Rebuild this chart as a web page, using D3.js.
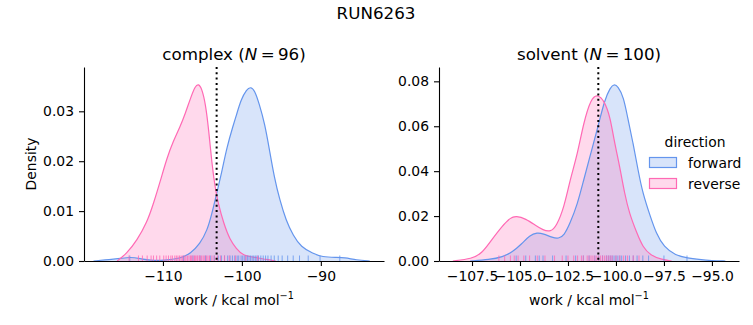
<!DOCTYPE html>
<html>
<head>
<meta charset="utf-8">
<script src="https://cdn.jsdelivr.net/npm/d3@7"></script>
<style>
  body { margin: 0; background: #fff; }
  text { font-family: "DejaVu Sans", sans-serif; fill: #000; }
</style>
</head>
<body>
<svg id="chart" width="753" height="325"></svg>
<script>
// density curves: [work, density]
var complexForward = [[-118.8,0],[-116.7,0.0003],[-115.4,0.0005],[-114.1,0.0008],[-112.9,0.0005],[-111.6,0.0001],
    [-109.9,0.0001],[-107.8,0.0005],[-106.5,0.0015],[-105.3,0.0035],[-104.4,0.0061],[-103.8,0.0095],[-103.2,0.0135],
    [-102.5,0.0182],[-101.9,0.0228],[-101.1,0.0272],[-100.7,0.0292],[-100.1,0.0324],[-99.4,0.0344],[-98.9,0.0349],
    [-98.4,0.0343],[-97.8,0.0315],[-97.1,0.0275],[-96.5,0.0222],[-95.9,0.0168],[-95.2,0.0122],[-94.4,0.0081],
    [-93.5,0.0051],[-92.5,0.0028],[-91.0,0.0015],[-89.8,0.0008],[-88.1,0.0007],[-87.0,0.0007],[-85.5,0.0002],[-83.8,0]];
var complexReverse = [[-115.8,0],[-114.6,0.0015],[-113.3,0.0041],[-112.0,0.0078],[-111.2,0.0115],[-110.3,0.0162],
    [-109.5,0.0206],[-108.7,0.0240],[-107.8,0.0270],[-107.2,0.0294],[-106.5,0.0327],[-105.9,0.0351],[-105.5,0.0355],
    [-105.1,0.0347],[-104.6,0.0315],[-104.2,0.0262],[-103.8,0.0195],[-103.4,0.0148],[-103.0,0.0115],[-102.3,0.0075],
    [-101.5,0.0042],[-100.7,0.0025],[-99.9,0.0011],[-98.2,0.0007],[-96.9,0.0003],[-95.7,0]];
var solventForward = [[-107.6,0],[-106.6,0.0006],[-105.9,0.0018],[-105.4,0.004],[-104.9,0.0077],[-104.5,0.0114],
    [-104.1,0.0127],[-103.8,0.0122],[-103.3,0.0104],[-103.0,0.0099],[-102.7,0.0114],[-102.4,0.0166],[-102.0,0.0255],
    [-101.7,0.0355],[-101.3,0.0483],[-100.9,0.0610],[-100.6,0.0715],[-100.3,0.0772],[-100.1,0.0788],[-99.9,0.0778],
    [-99.6,0.0730],[-99.4,0.0641],[-99.1,0.0522],[-98.85,0.0404],[-98.6,0.030],[-98.2,0.0196],[-97.9,0.0122],
    [-97.5,0.0062],[-96.9,0.0025],[-96.25,0.0013],[-95.7,0.0007],[-95.0,0.0001],[-94.3,0]];
var solventReverse = [[-108.5,0],[-107.5,0.001],[-107.0,0.0033],[-106.5,0.0092],[-105.9,0.0159],[-105.5,0.0193],
    [-105.2,0.0201],[-104.7,0.0188],[-104.2,0.0159],[-103.8,0.0137],[-103.4,0.0130],[-103.1,0.0155],[-102.7,0.024],
    [-102.4,0.0359],[-102.0,0.0478],[-101.7,0.0611],[-101.3,0.0725],[-100.95,0.0743],[-100.6,0.0712],[-100.3,0.0641],
    [-100.1,0.0537],[-99.8,0.0419],[-99.55,0.030],[-99.3,0.0211],[-98.9,0.0122],[-98.6,0.0062],[-98.2,0.0025],
    [-97.6,0.0006],[-97.1,0]];

// rug positions (work values)
var complexForwardRug = [-114.2,-107.4,-106.2,-105.3,-104.6,-104.0,-103.5,-103.0,-102.6,-102.2,-101.8,-101.5,-101.2,
    -100.9,-100.6,-100.4,-100.1,-99.9,-99.7,-99.5,-99.3,-99.1,-98.9,-98.7,-98.5,-98.3,-98.1,-97.9,-97.6,-97.3,-97.0,
    -96.7,-96.3,-95.9,-95.4,-94.9,-94.2,-93.5,-92.7,-91.6,-90.1,-87.6];
var complexReverseRug = [-114.3,-113.1,-112.6,-112.0,-111.5,-111.2,-110.8,-110.4,-109.9,-109.6,-109.3,-109.0,-108.8,
    -108.5,-108.3,-108.1,-107.9,-107.7,-107.5,-107.3,-107.1,-106.9,-106.7,-106.5,-106.4,-106.2,-106.0,-105.9,-105.7,
    -105.6,-105.4,-105.3,-105.1,-104.9,-104.7,-104.5,-104.3,-104.1,-103.8,-103.5,-103.1,-102.7,-102.2,-101.6,-100.8,
    -99.5,-98.0];
var solventForwardRug = [-105.2,-104.7,-104.2,-104.0,-103.8,-103.3,-102.6,-102.1,-101.7,-101.4,-101.1,-100.9,-100.7,
    -100.5,-100.4,-100.3,-100.2,-100.1,-100.0,-99.9,-99.8,-99.7,-99.5,-99.3,-99.1,-98.9,-98.6,-98.3,-97.5,-96.3];
var solventReverseRug = [-106.1,-105.8,-105.5,-105.3,-105.1,-104.8,-104.5,-104.1,-103.7,-103.2,-102.8,-102.5,-102.2,
    -102.0,-101.8,-101.7,-101.5,-101.4,-101.3,-101.2,-101.1,-101.0,-100.9,-100.8,-100.7,-100.6,-100.5,-100.4,-100.3,
    -100.2,-100.0,-99.8,-99.6,-99.4,-99.1,-98.8];

var complexXTicks = [-110, -100, -90];
var complexYTicks = [0, 0.01, 0.02, 0.03];
var solventXTicks = [-107.5, -105, -102.5, -100, -97.5, -95];
var solventYTicks = [0, 0.02, 0.04, 0.06, 0.08];

var directions = ["forward", "reverse"];
var colors = { forward: "#6495ed", reverse: "#ff69b4" };

var svg = d3.select("#chart");

svg.append("text")
    .attr("x", 376).attr("y", 19)
    .attr("text-anchor", "middle")
    .style("font-size", "16.7px")
    .text("RUN6263");

function panel(cfg) {
    var x = d3.scaleLinear().domain(cfg.xDomain).range([cfg.left, cfg.right]);
    var y = d3.scaleLinear().domain(cfg.yDomain).range([261, 67]);
    var g = svg.append("g");

    var area = d3.area()
        .curve(d3.curveBasis)
        .x(function(d) { return x(d[0]); })
        .y0(y(0))
        .y1(function(d) { return y(d[1]); });
    var line = d3.line()
        .curve(d3.curveBasis)
        .x(function(d) { return x(d[0]); })
        .y(function(d) { return y(d[1]); });

    cfg.series.forEach(function(s) {
        g.append("path")
            .attr("d", area(s.curve))
            .attr("fill", colors[s.dir])
            .attr("fill-opacity", 0.25)
            .attr("stroke", "none");
    });
    cfg.series.forEach(function(s) {
        g.append("path")
            .attr("d", line(s.curve))
            .attr("fill", "none")
            .attr("stroke", colors[s.dir])
            .attr("stroke-width", 1.2);
    });

    // rug
    cfg.series.forEach(function(s) {
        g.selectAll(null).data(s.rug).enter().append("line")
            .attr("x1", function(d) { return x(d); })
            .attr("x2", function(d) { return x(d); })
            .attr("y1", 261).attr("y2", 255.5)
            .attr("stroke", colors[s.dir])
            .attr("stroke-opacity", 0.8)
            .attr("stroke-width", 1);
    });

    // dotted reference line
    g.append("line")
        .attr("x1", x(cfg.vline)).attr("x2", x(cfg.vline))
        .attr("y1", 67).attr("y2", 261)
        .attr("stroke", "#000")
        .attr("stroke-width", 2)
        .attr("stroke-dasharray", "2,3.3");

    var fmtY = d3.format(".2f");
    var xAxis = g.append("g")
        .attr("transform", "translate(0,261)")
        .call(d3.axisBottom(x).tickValues(cfg.xTicks).tickSize(5).tickPadding(5)
            .tickFormat(cfg.xFormat).tickSizeOuter(0));
    var yAxis = g.append("g")
        .attr("transform", "translate(" + cfg.left + ",0)")
        .call(d3.axisLeft(y).tickValues(cfg.yTicks).tickSize(5).tickPadding(5)
            .tickFormat(fmtY).tickSizeOuter(0));
    [xAxis, yAxis].forEach(function(a) {
        a.select(".domain").attr("stroke", "#000").attr("stroke-width", 1.1);
        a.selectAll(".tick line").attr("stroke", "#000").attr("stroke-width", 1.1);
        a.selectAll(".tick text").style("font-size", "13.9px")
            .style("font-family", "DejaVu Sans, sans-serif").attr("fill", "#000");
    });

    var cx = (cfg.left + cfg.right) / 2;
    var title = g.append("text")
        .attr("x", cx).attr("y", 60)
        .attr("text-anchor", "middle")
        .style("font-size", "16.7px");
    title.append("tspan").text(cfg.name + " (");
    title.append("tspan").style("font-style", "italic").text("N");
    title.append("tspan").text("\u2009=\u2009" + cfg.n + ")");

    var xl = g.append("text")
        .attr("x", cx).attr("y", 305)
        .attr("text-anchor", "middle")
        .style("font-size", "13.9px");
    xl.append("tspan").text("work / kcal mol");
    xl.append("tspan").attr("dy", -6).style("font-size", "9.7px").text("\u22121");

    return g;
}

panel({
    name: "complex", n: 96, left: 84, right: 384,
    xDomain: [-120.0, -82.0], yDomain: [0, 0.03888],
    xTicks: complexXTicks, yTicks: complexYTicks,
    xFormat: function(d) { return d3.format("d")(d).replace("-", "\u2212"); },
    vline: -103.2,
    series: [
        { dir: "forward", curve: complexForward, rug: complexForwardRug },
        { dir: "reverse", curve: complexReverse, rug: complexReverseRug }
    ]
});

panel({
    name: "solvent", n: 100, left: 439, right: 739,
    xDomain: [-109.22, -93.59], yDomain: [0, 0.08638],
    xTicks: solventXTicks, yTicks: solventYTicks,
    xFormat: function(d) { return d3.format(".1f")(d).replace("-", "\u2212"); },
    vline: -100.92,
    series: [
        { dir: "forward", curve: solventForward, rug: solventForwardRug },
        { dir: "reverse", curve: solventReverse, rug: solventReverseRug }
    ]
});

svg.append("text")
    .attr("x", 31).attr("y", 164)
    .attr("text-anchor", "middle")
    .attr("transform", "rotate(-90,31,164)")
    .attr("dy", "0.35em")
    .style("font-size", "13.9px")
    .text("Density");

// legend
var legend = svg.append("g");
legend.append("text")
    .attr("x", 695).attr("y", 147)
    .attr("text-anchor", "middle")
    .style("font-size", "13.9px")
    .text("direction");
var items = legend.selectAll("g.item").data(directions).enter().append("g")
    .attr("class", "item")
    .attr("transform", function(d, i) { return "translate(0," + (i * 21) + ")"; });
items.append("rect")
    .attr("x", 649.5).attr("y", 157.5).attr("width", 27).attr("height", 10)
    .attr("fill", function(d) { return colors[d]; })
    .attr("fill-opacity", 0.25)
    .attr("stroke", function(d) { return colors[d]; })
    .attr("stroke-width", 1.2);
items.append("text")
    .attr("x", 688).attr("y", 167.5)
    .style("font-size", "13.9px")
    .text(function(d) { return d; });
</script>
</body>
</html>
